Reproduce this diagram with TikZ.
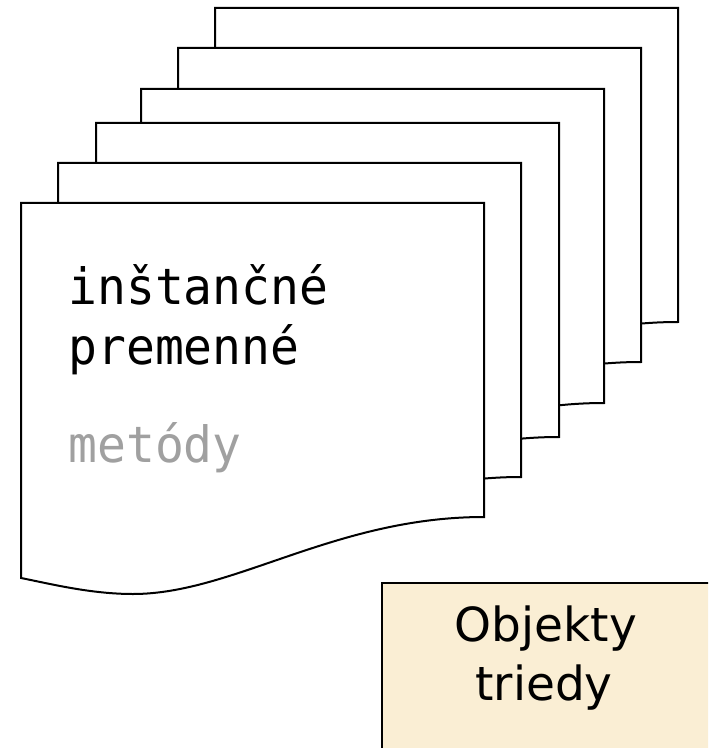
\documentclass[tikz,border=0pt]{standalone}
\usepackage{fontspec}
\setmainfont{DejaVu Sans}
\newfontfamily\codefont[FakeStretch=0.96]{DejaVu Sans Mono}
\definecolor{boxfill}{RGB}{250,238,212}
\definecolor{methgray}{RGB}{160,160,160}

\begin{document}
\begin{tikzpicture}[x=0.5pt,y=-0.5pt]
\tikzstyle{every node}+=[inner sep=0pt]
\tikzstyle{page}=[black, line width=1pt, fill=white]
\tikzstyle{code}=[anchor=base west, font=\codefont\fontsize{25}{25}\selectfont]
\tikzstyle{label}=[anchor=base, font=\fontsize{23.5}{23.5}\selectfont]
\useasboundingbox (0,0) rectangle (708,748);
\draw [page, shift={(215,8)}] (0,0) -- (463,0) -- (463,314) .. controls (314,314) and (212,391) .. (112,391) .. controls (70,391) and (30,381) .. (0,375) -- cycle;
\draw [page, shift={(178,48)}] (0,0) -- (463,0) -- (463,314) .. controls (314,314) and (212,391) .. (112,391) .. controls (70,391) and (30,381) .. (0,375) -- cycle;
\draw [page, shift={(141,89)}] (0,0) -- (463,0) -- (463,314) .. controls (314,314) and (212,391) .. (112,391) .. controls (70,391) and (30,381) .. (0,375) -- cycle;
\draw [page, shift={(96,123)}] (0,0) -- (463,0) -- (463,314) .. controls (314,314) and (212,391) .. (112,391) .. controls (70,391) and (30,381) .. (0,375) -- cycle;
\draw [page, shift={(58,163)}] (0,0) -- (463,0) -- (463,314) .. controls (314,314) and (212,391) .. (112,391) .. controls (70,391) and (30,381) .. (0,375) -- cycle;
\draw [page, shift={(21,203)}] (0,0) -- (463,0) -- (463,314) .. controls (314,314) and (212,391) .. (112,391) .. controls (70,391) and (30,381) .. (0,375) -- cycle;
\node [code] (inst) at (68,305) {inštančné};
\node [code] (prem) at (68,364) {premenné};
\node [code, methgray] (met) at (68,462) {metódy};
\begin{scope}
\clip (0,0) rectangle (708,748);
\draw [black, line width=0.9pt, fill=boxfill] (382,583) rectangle (720,760);
\end{scope}
\node [label] (objekty) at (546,641) {Objekty};
\node [label] (triedy) at (544,700) {triedy};
\end{tikzpicture}
\end{document}
